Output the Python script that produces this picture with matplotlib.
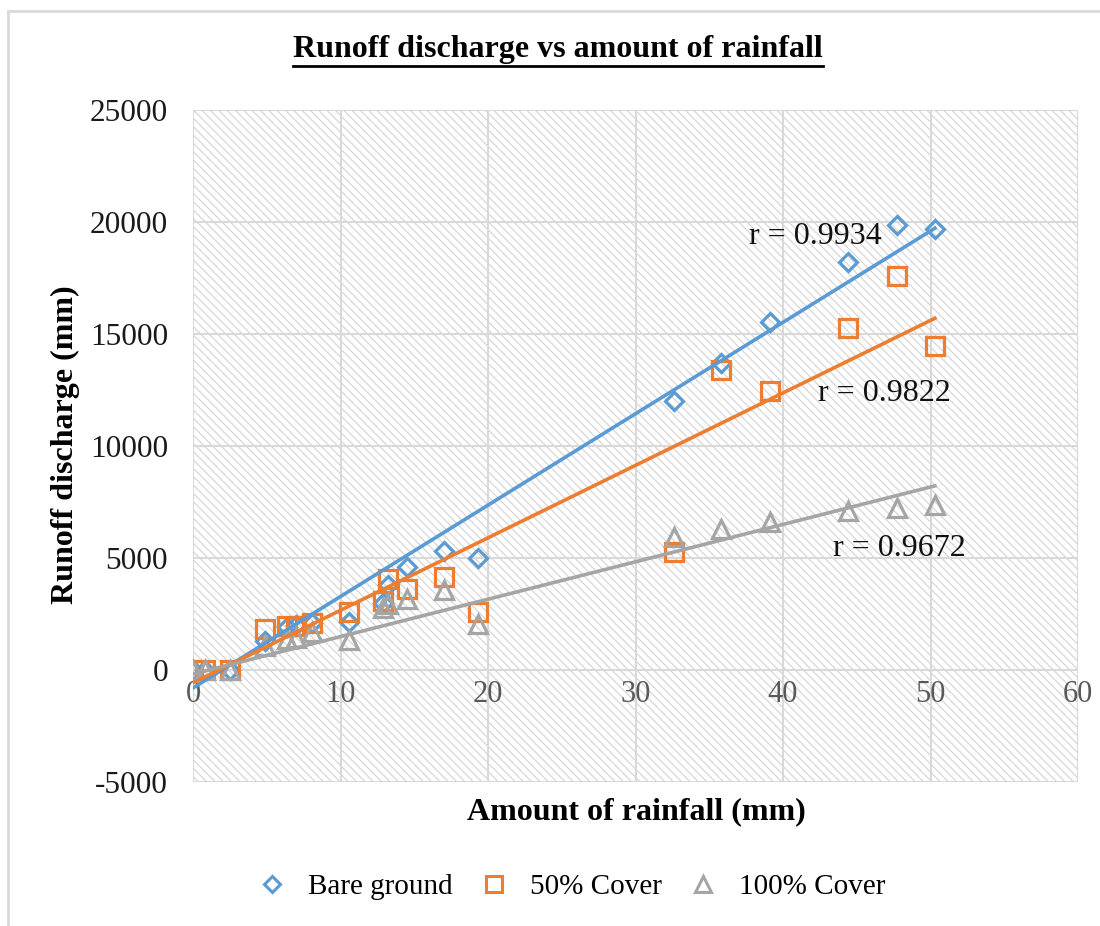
import numpy as np
import matplotlib
matplotlib.use('Agg')
import matplotlib.pyplot as plt
from matplotlib.lines import Line2D

# rainfall (mm) - same for all three plots
rainfall = [0, 0.8, 2.5, 4.9, 6.4, 7.0, 8.1, 10.6, 12.9, 13.2, 14.5, 17.0, 19.3,
            32.6, 35.8, 39.1, 44.4, 47.7, 50.3]
bare = [0, 0, 0, 1300, 1900, 2000, 2100, 2150, 3000, 3800, 4600, 5300, 5000,
        12000, 13700, 15550, 18200, 19850, 19700]
half_cover = [0, 0, 0, 1850, 1950, 1950, 2100, 2600, 3100, 4050, 3600, 4150, 2600,
              5250, 13400, 12450, 15250, 17600, 14450]
full_cover = [0, 0, 0, 1050, 1400, 1450, 1700, 1350, 2750, 2950, 3150, 3550, 2050,
              5950, 6300, 6600, 7100, 7250, 7350]

series_names = ['Bare ground', '50% Cover', '100% Cover']
# linear trend lines (slope, intercept)
trend_slope = [408, 323.5, 167]
trend_icept = [-800, -570, -180]
r_labels = ['r = 0.9934', 'r = 0.9822', 'r = 0.9672']
r_pos = [(37.7, 19000), (42.4, 12000), (43.4, 5100)]

colors = ['#5b9bd5', '#ed7d31', '#a5a5a5']
markers = ['D', 's', '^']
msizes = [9, 13, 13]

plt.rcParams['font.family'] = ['Liberation Serif', 'DejaVu Serif']
plt.rcParams['axes.unicode_minus'] = False
plt.rcParams['hatch.linewidth'] = 0.8

fig = plt.figure(figsize=(11, 9.26), dpi=100)
ax = fig.add_axes([193 / 1100, 1 - 782 / 926, (1078 - 193) / 1100, (782 - 110) / 926])

# hatched background like the excel plot area
ax.set_facecolor('white')
ax.add_patch(plt.Rectangle((0, 0), 1, 1, transform=ax.transAxes, facecolor='none',
                           edgecolor='#d3d3d3', hatch='\\\\\\\\', linewidth=0, zorder=0))

x = np.array(rainfall)
for ys, c, m, ms, name, k, b in zip([bare, half_cover, full_cover], colors, markers, msizes,
                                    series_names, trend_slope, trend_icept):
    ax.plot(x, ys, linestyle='none', marker=m, markersize=ms, markerfacecolor='none',
            markeredgecolor=c, markeredgewidth=2.3, label=name, zorder=3)
    xx = np.array([0, x.max()])
    ax.plot(xx, k * xx + b, color=c, linewidth=2.6, zorder=4)

for (tx, ty), txt in zip(r_pos, r_labels):
    ax.text(tx, ty, txt, fontsize=23, color='#111111', ha='left', va='baseline', zorder=5)

ax.set_xlim(0, 60)
ax.set_ylim(-5000, 25000)
ax.set_xticks(range(0, 61, 10))
ax.set_yticks(range(-5000, 25001, 5000))
ax.grid(True, color='#d9d9d9', linewidth=1.5, zorder=1)
ax.set_axisbelow(True)
for s in ax.spines.values():
    s.set_visible(False)
ax.spines['bottom'].set_position(('data', 0))
ax.tick_params(axis='both', length=0)
ax.tick_params(axis='x', labelsize=22, labelcolor='#595959', pad=7)
ax.tick_params(axis='y', labelsize=22.5, labelcolor='#1a1a1a', pad=18)

fig.text(65 / 1100, 1 - 445 / 926, 'Runoff discharge (mm)', rotation=90, fontsize=23,
         fontweight='bold', ha='center', va='center')
fig.text(636 / 1100, 1 - 812 / 926, 'Amount of rainfall (mm)', fontsize=23,
         fontweight='bold', ha='center', va='center')

title = fig.text(558 / 1100, 1 - 50 / 926, 'Runoff discharge vs amount of rainfall',
                 fontsize=23, fontweight='bold', ha='center', va='center')
fig.canvas.draw()
bb = title.get_window_extent().transformed(fig.transFigure.inverted())
fig.add_artist(Line2D([bb.x0, bb.x1], [bb.y0 - 0.002, bb.y0 - 0.002], color='black',
                      linewidth=2, transform=fig.transFigure))

handles = [Line2D([], [], linestyle='none', marker=m, markersize=ms * 0.85, markerfacecolor='none',
                  markeredgecolor=c, markeredgewidth=2.2) for c, m, ms in zip(colors, markers, msizes)]
fig.legend(handles, series_names, loc='center', bbox_to_anchor=(573 / 1100, 1 - 887 / 926),
           ncol=3, frameon=False, fontsize=21, handlelength=0.8, handletextpad=0.85,
           columnspacing=1.0)

# outer chart border (left and top only visible)
fig.add_artist(Line2D([8 / 1100, 8 / 1100], [0, 1 - 11 / 926], color='#d9d9d9', linewidth=2,
                      transform=fig.transFigure))
fig.add_artist(Line2D([8 / 1100, 1], [1 - 11 / 926, 1 - 11 / 926], color='#d9d9d9', linewidth=2,
                      transform=fig.transFigure))

fig.savefig('out.png', dpi=100)
